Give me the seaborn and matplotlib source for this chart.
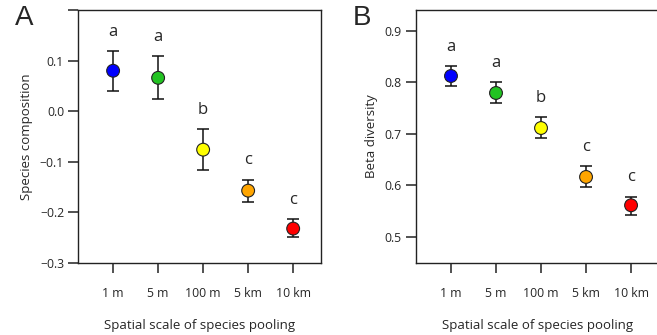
import numpy as np
import pandas as pd
import seaborn as sns
import matplotlib.pyplot as plt

# values
scales = ['1 m', '5 m', '100 m', '5 km', '10 km']
colors = ['#0000FF', '#22C322', '#FFFF00', '#FFA500', '#FF0000']
groups = ['a', 'a', 'b', 'c', 'c']

comp_mean = [0.080, 0.066, -0.076, -0.157, -0.232]
comp_low = [0.040, 0.024, -0.117, -0.179, -0.248]
comp_high = [0.119, 0.109, -0.036, -0.135, -0.213]

beta_mean = [0.812, 0.779, 0.711, 0.616, 0.561]
beta_low = [0.793, 0.760, 0.692, 0.596, 0.543]
beta_high = [0.831, 0.800, 0.732, 0.637, 0.578]

sns.set_style('ticks')
plt.rcParams['font.family'] = ['Open Sans', 'DejaVu Sans']
plt.rcParams['axes.axisbelow'] = False

fig = plt.figure(figsize=(6.57, 3.35), dpi=100)
axA = fig.add_axes([0.1187, 0.215, 0.37, 0.755])
axB = fig.add_axes([0.633, 0.215, 0.37, 0.755])


def panel(ax, mean, low, high, ylabel, ylim, yticks, yticklabels, letter):
    df = pd.DataFrame({'x': np.arange(1, 6), 'scale': scales, 'mean': mean,
                       'low': low, 'high': high})
    err = [df['mean'] - df['low'], df['high'] - df['mean']]
    ax.errorbar(df['x'], df['mean'], yerr=err, fmt='none', ecolor='#111111',
                elinewidth=1.1, capsize=4.5, capthick=1.1, zorder=2)
    sns.scatterplot(data=df, x='x', y='mean', hue='scale', palette=colors,
                    s=85, edgecolor='#222222', linewidth=0.8, legend=False,
                    ax=ax, zorder=3)
    # significance letters above each error bar
    for xi, hi, g in zip(df['x'], df['high'], groups):
        ax.text(xi, hi + 0.038, g, ha='center', va='center', fontsize=12)
    ax.set_xlim(0.22, 5.62)
    ax.set_ylim(*ylim)
    ax.set_xticks(df['x'], scales, fontsize=8.8)
    ax.set_yticks(yticks, yticklabels, fontsize=8.8)
    ax.xaxis.set_tick_params(length=7, width=1.1, color='#222222', pad=10)
    ax.yaxis.set_tick_params(length=7, width=1.1, color='#222222', pad=3)
    ax.set_xlabel('Spatial scale of species pooling', fontsize=9.5, labelpad=14)
    ax.set_ylabel(ylabel, fontsize=9.5, labelpad=5)
    for sp in ax.spines.values():
        sp.set_visible(True)
        sp.set_color('#222222')
        sp.set_linewidth(1)
    ax.text(-0.26, 0.97, letter, transform=ax.transAxes, fontsize=20,
            family='Liberation Sans', ha='left', va='center')


panel(axA, comp_mean, comp_low, comp_high, 'Species composition', (-0.3, 0.2),
      [-0.3, -0.2, -0.1, 0.0, 0.1, 0.2],
      ['\u22120.3', '\u22120.2', '\u22120.1', '0.0', '0.1', ''], 'A')
panel(axB, beta_mean, beta_low, beta_high, 'Beta diversity', (0.449, 0.94),
      [0.5, 0.6, 0.7, 0.8, 0.9], ['0.5', '0.6', '0.7', '0.8', '0.9'], 'B')

plt.savefig('out.png', dpi=100)
